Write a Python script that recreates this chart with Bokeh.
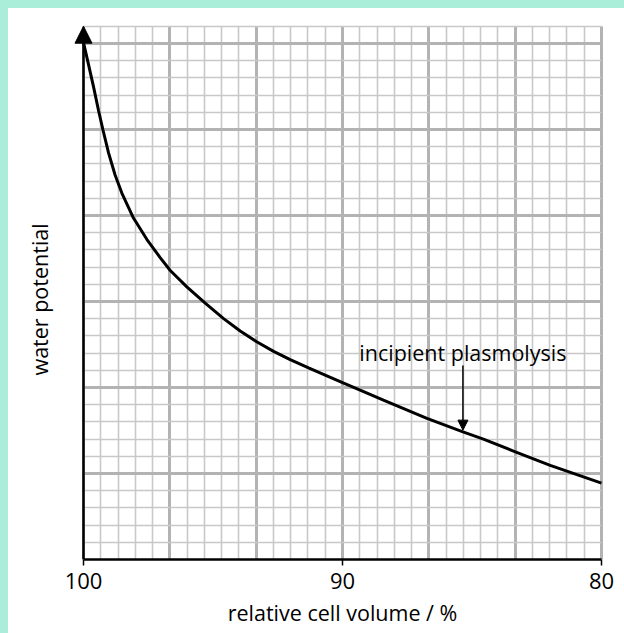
import numpy as np
from bokeh.plotting import figure
from bokeh.models import Range1d, FixedTicker, Arrow, NormalHead, Label, Title
from bokeh.embed import file_html
from bokeh.resources import INLINE

# ---- data ----
volume = [100.0, 99.81, 99.61, 99.42, 99.25, 99.03, 98.78, 98.52, 98.07, 97.55,
          97.04, 96.65, 96.01, 95.30, 94.59, 93.95, 93.33, 92.66, 92.02, 91.31,
          90.67, 90.0, 89.32, 88.42, 86.74, 85.35, 84.56, 83.40, 81.98, 80.0]
potential = [30.05, 28.8, 27.46, 26.1, 24.98, 23.62, 22.35, 21.3, 19.85, 18.6,
             17.55, 16.8, 15.85, 14.9, 14.0, 13.28, 12.67, 12.1, 11.62, 11.14,
             10.72, 10.28, 9.85, 9.27, 8.2, 7.42, 7.0, 6.3, 5.47, 4.44]
x_tick_values = [100, 90, 80]
x_tick_labels = {100: "100", 90: "90", 80: "80"}
y_axis_title = "water potential"
x_axis_title = "relative cell volume / %"
annotation_text = "incipient plasmolysis"
plasmolysis_volume = 85.35
plasmolysis_potential = 7.42

FONT = "Open Sans"
PX_PER_X = 25.9   # pixels per % on the x axis
PX_PER_Y = 17.2   # pixels per grid square on the y axis
pad = 15 / PX_PER_X

p = figure(width=616, height=625, output_backend="svg", toolbar_location=None,
           x_range=Range1d(100 + pad, 80 - pad), y_range=Range1d(0, 31 + 1.7 / PX_PER_Y),
           min_border_left=60, min_border_right=8, min_border_top=16,
           min_border_bottom=74, background_fill_color="white",
           border_fill_color="white", outline_line_color=None)
p.styles = {"background-color": "white"}

# graph-paper grid
x_major = list(np.linspace(100, 80, 7))
x_minor = list(np.linspace(100, 80, 31))
y_major = list(np.arange(0, 32, 5))
y_minor = list(np.arange(0, 32, 1))
p.xgrid.ticker = FixedTicker(ticks=x_major, minor_ticks=x_minor)
p.ygrid.ticker = FixedTicker(ticks=y_major, minor_ticks=y_minor)
p.xgrid.bounds = (80, 100)
p.xgrid.cross_bounds = (0, 31)
p.ygrid.bounds = (0, 31)
p.ygrid.cross_bounds = (80, 100)
for g in (p.xgrid, p.ygrid):
    g.grid_line_color = "#b3b3b3"
    g.grid_line_width = 3
    g.minor_grid_line_color = "#c8c8c8"
    g.minor_grid_line_width = 1.6

# x axis
xa = p.xaxis[0]
xa.bounds = (80, 100)
xa.ticker = FixedTicker(ticks=x_tick_values)
xa.major_label_overrides = x_tick_labels
xa.axis_line_color = "black"
xa.axis_line_width = 2.5
xa.major_tick_in = 0
xa.major_tick_out = 6
xa.major_tick_line_width = 1.5
xa.minor_tick_line_color = None
xa.major_label_text_font = FONT
xa.major_label_text_font_size = "22px"
xa.major_label_text_color = "black"
xa.major_label_standoff = 7
xa.axis_label = x_axis_title
xa.axis_label_text_font = FONT
xa.axis_label_text_font_size = "21.5px"
xa.axis_label_text_font_style = "normal"
xa.axis_label_text_color = "black"
xa.axis_label_standoff = 6

# y axis: hidden; its line is drawn as an arrow, its title as a side title
p.yaxis.visible = False
p.add_layout(Title(text=y_axis_title, align="left", vertical_align="middle",
                   offset=184, standoff=28, text_font=FONT, text_font_size="21.5px",
                   text_font_style="normal", text_color="black"), "left")

p.add_layout(Arrow(x_start=100, y_start=0, x_end=100, y_end=31,
                   line_color="black", line_width=2.5,
                   end=NormalHead(size=17, fill_color="black", line_color="black",
                                  line_width=1)))

# curve
p.line(volume, potential, line_color="black", line_width=3)

# annotation
p.add_layout(Arrow(x_start=plasmolysis_volume, y_start=plasmolysis_potential + 3.85,
                   x_end=plasmolysis_volume, y_end=plasmolysis_potential + 0.1,
                   line_color="black", line_width=1.5,
                   end=NormalHead(size=10, fill_color="black", line_color="black",
                                  line_width=1)))
p.add_layout(Label(x=89.35, y=12.03, text=annotation_text, text_font=FONT,
                   text_font_size="21.5px", text_color="black",
                   text_align="left", text_baseline="alphabetic"))

template = """
{% block postamble %}
<style>
html, body { background: #aaeeda; }
body { margin: 8px 0 0 8px; overflow: hidden; }
</style>
{% endblock %}
"""

open("out.html", "w").write(file_html(p, INLINE, template=template))
